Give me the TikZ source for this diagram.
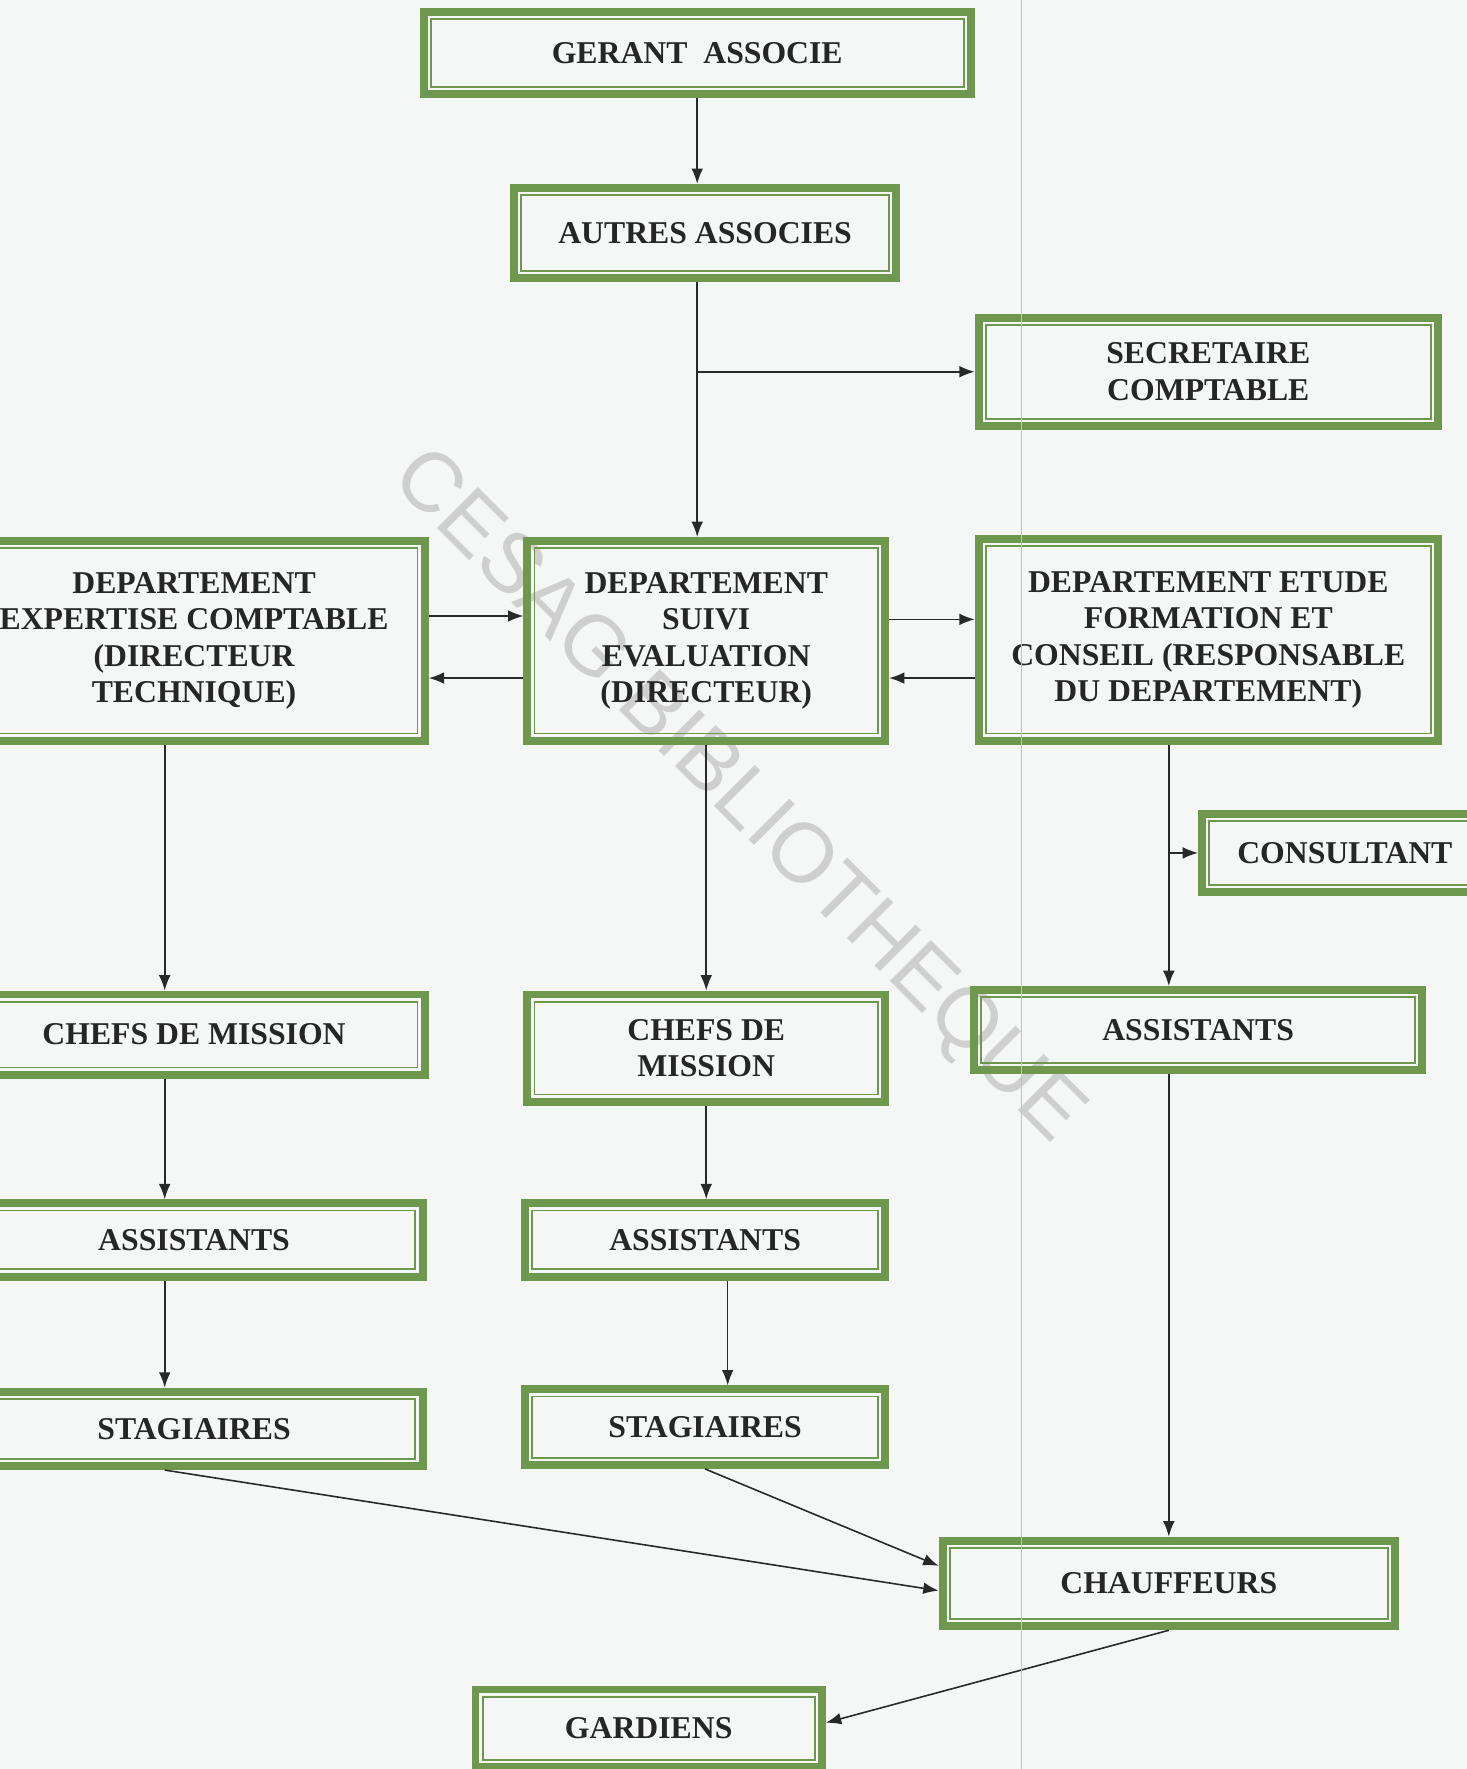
\documentclass[tikz,border=0pt]{standalone}
\usepackage{fontspec}
\setmainfont{Liberation Serif}
\newfontfamily\wmfont{Liberation Sans}
\usetikzlibrary{arrows.meta}
\definecolor{boxgreen}{RGB}{110,152,78}
\definecolor{pagebg}{RGB}{245,247,247}
\definecolor{wirecol}{RGB}{40,42,42}
\begin{document}
\begin{tikzpicture}[x=0.025cm, y=-0.025cm,
  box/.style={draw=boxgreen, line width=5pt, align=center, inner sep=0pt,
    font=\bfseries\fontsize{20}{23}\selectfont, text=black!85,
    path picture={\draw[boxgreen, line width=1.1pt]
      ([shift={(0.16cm,0.16cm)}]path picture bounding box.south west) rectangle
      ([shift={(-0.16cm,-0.16cm)}]path picture bounding box.north east);}},
  arr/.style={draw=wirecol, line width=1pt, -{Latex[length=0.34cm,width=0.26cm]}},
  wmark/.style={font=\wmfont\fontsize{53}{58}\selectfont, text=black!19, rotate=-45}]
  \fill[pagebg] (0,0) rectangle (1300,1568);
  \useasboundingbox (0,0) rectangle (1300,1568);

  \node[wmark] (filigrane) at (653,707) {CESAG BIBLIOTHEQUE};

  \node[box, minimum width=12.125cm, minimum height=1.825cm] (gerant) at (618,47) {GERANT\ \ ASSOCIE};
  \node[box, minimum width=8.475cm, minimum height=2cm] (autres) at (625,206.5) {AUTRES ASSOCIES};
  \node[box, minimum width=10.175cm, minimum height=2.4cm] (secr) at (1071,329.5) {SECRETAIRE\\COMPTABLE};
  \node[box, minimum width=10.225cm, minimum height=4.425cm] (dexp) at (172,568) {DEPARTEMENT\\EXPERTISE COMPTABLE\\(DIRECTEUR\\TECHNIQUE)};
  \node[box, minimum width=7.925cm, minimum height=4.425cm] (dsuivi) at (626,568) {DEPARTEMENT\\SUIVI\\EVALUATION\\(DIRECTEUR)};
  \node[box, minimum width=10.175cm, minimum height=4.475cm] (detude) at (1071,567) {DEPARTEMENT ETUDE\\FORMATION ET\\CONSEIL (RESPONSABLE\\DU DEPARTEMENT)};
  \node[box, minimum width=6.325cm, minimum height=1.725cm] (consult) at (1192,756) {CONSULTANT};
  \node[box, minimum width=10.225cm, minimum height=1.775cm] (chefsA) at (172,917) {CHEFS DE MISSION};
  \node[box, minimum width=7.925cm, minimum height=2.375cm] (chefsB) at (626,929) {CHEFS DE\\MISSION};
  \node[box, minimum width=9.925cm, minimum height=1.775cm] (assC) at (1062,913) {ASSISTANTS};
  \node[box, minimum width=10.125cm, minimum height=1.625cm] (assA) at (172,1099) {ASSISTANTS};
  \node[box, minimum width=7.975cm, minimum height=1.625cm] (assB) at (625,1099) {ASSISTANTS};
  \node[box, minimum width=10.125cm, minimum height=1.65cm] (stagA) at (172,1266.5) {STAGIAIRES};
  \node[box, minimum width=7.975cm, minimum height=1.675cm] (stagB) at (625,1265) {STAGIAIRES};
  \node[box, minimum width=10.025cm, minimum height=1.9cm] (chauf) at (1036,1403.5) {CHAUFFEURS};
  \node[box, minimum width=7.675cm, minimum height=1.725cm] (gard) at (575,1532) {GARDIENS};

  \draw[arr] (gerant.south) -- (gerant.south |- autres.north);
  \draw[arr] (autres.south -| gerant.south) -- (dsuivi.north -| gerant.south);
  \draw[arr] (gerant.south |- secr.west) -- (secr.west);
  \draw[arr] ([yshift=0.55cm]dexp.east) -- ([yshift=0.55cm]dexp.east -| dsuivi.west);
  \draw[arr] ([yshift=-0.825cm]dsuivi.west) -- ([yshift=-0.825cm]dsuivi.west -| dexp.east);
  \draw[arr] ([yshift=0.475cm]dsuivi.east) -- ([yshift=0.475cm]dsuivi.east -| detude.west);
  \draw[arr] ([yshift=-0.85cm]detude.west) -- ([yshift=-0.85cm]detude.west -| dsuivi.east);
  \foreach \a/\b in {dexp/chefsA, chefsA/assA, assA/stagA}
    \draw[arr] ([xshift=-0.65cm]\a.south) -- ([xshift=-0.65cm]\a.south |- \b.north);
  \draw[arr] (dsuivi) -- (chefsB);
  \draw[arr] (chefsB.south) -- (chefsB.south |- assB.north);
  \draw[arr] ([xshift=0.5cm]assB.south) -- ([xshift=0.5cm]assB.south |- stagB.north);
  \draw[arr] ([xshift=-0.875cm]detude.south) -- ([xshift=-0.875cm]detude.south |- assC.north);
  \draw[arr] ([xshift=-0.875cm]detude.south |- consult.west) -- (consult.west);
  \draw[arr] (chauf.north |- assC.south) -- (chauf.north);
  \draw[arr] ([xshift=-0.65cm]stagA.south) -- ([yshift=-0.16cm]chauf.west);
  \draw[arr] (stagB.south) -- ([yshift=0.39cm]chauf.west);
  \draw[arr] (chauf.south) -- ([yshift=0.125cm]gard.east);

  \draw[violet!30, line width=0.6pt] (905,0) -- (905,1568);
\end{tikzpicture}
\end{document}
